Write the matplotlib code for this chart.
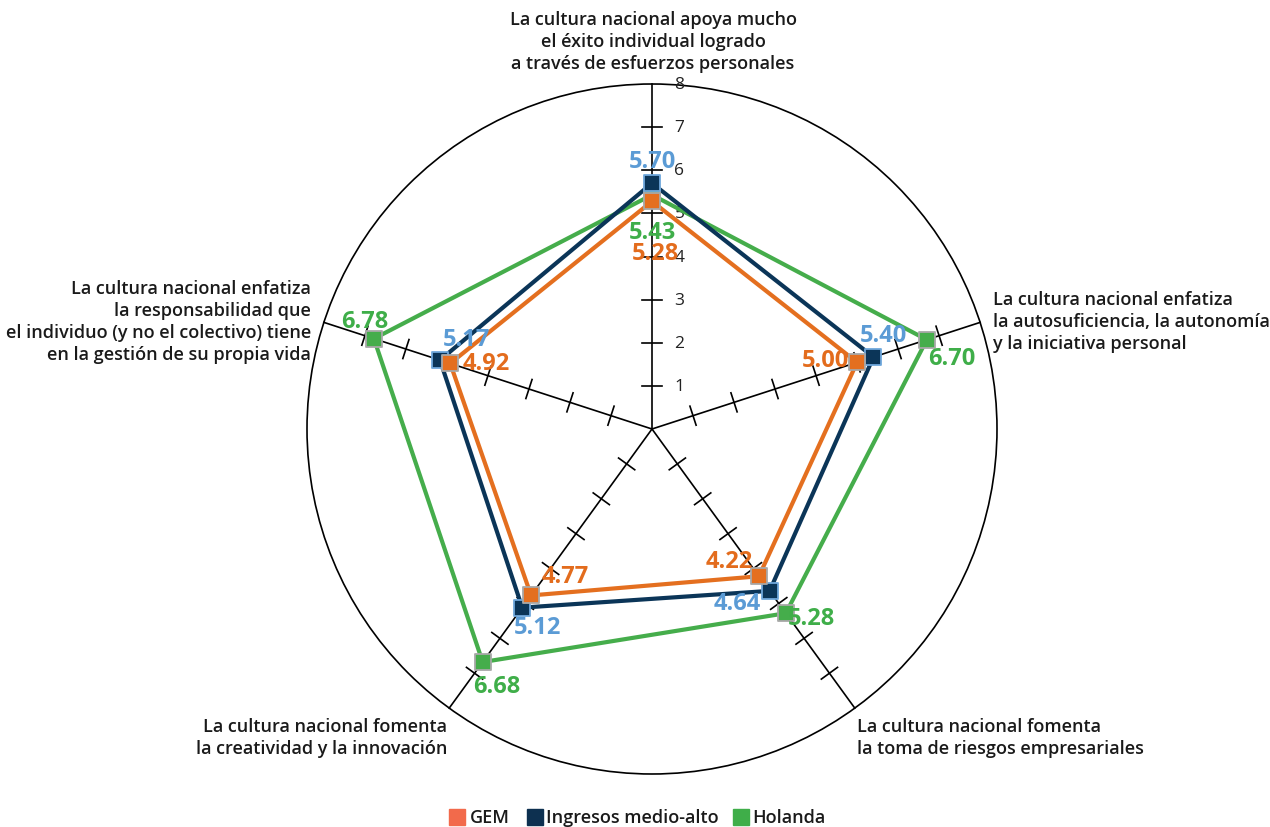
"""Radar chart: cultural norms scores for GEM, upper-middle income and Holanda."""
import matplotlib.pyplot as plt
import numpy as np
from matplotlib.patches import Circle, Rectangle

plt.rcParams["font.family"] = ["Open Sans", "DejaVu Sans"]

AXIS_LABELS = [
    "La cultura nacional apoya mucho\nel éxito individual logrado\na través de esfuerzos personales",
    "La cultura nacional enfatiza\nla autosuficiencia, la autonomía\ny la iniciativa personal",
    "La cultura nacional fomenta\nla toma de riesgos empresariales",
    "La cultura nacional fomenta\nla creatividad y la innovación",
    "La cultura nacional enfatiza\nla responsabilidad que\nel individuo (y no el colectivo) tiene\nen la gestión de su propia vida",
]
SERIES = ["GEM", "Ingresos medio-alto", "Holanda"]
gem = [5.28, 5.00, 4.22, 4.77, 4.92]
ingresos = [5.70, 5.40, 4.64, 5.12, 5.17]
holanda = [5.43, 6.70, 5.28, 6.68, 6.78]
R_MAX = 8
TICKS = [1, 2, 3, 4, 5, 6, 7, 8]

LINE_COLORS = {"GEM": "#e46f1f", "Ingresos medio-alto": "#0b3558", "Holanda": "#45ad4b"}
LABEL_COLORS = {"GEM": "#e36c1d", "Ingresos medio-alto": "#5b9bd5", "Holanda": "#3fae49"}
EDGE_COLORS = {"GEM": "#a8a8a8", "Ingresos medio-alto": "#6fa8dc", "Holanda": "#a8a8a8"}
LEGEND_COLORS = {"GEM": "#f26a4b", "Ingresos medio-alto": "#0d3050", "Holanda": "#3fae49"}

# value-label offsets in pixels from each marker, per series, per axis
LABEL_OFFSETS = {
    "GEM": [(3, -52), (-32, 2), (-30, 15), (34, 19), (36, 0)],
    "Ingresos medio-alto": [(0, 22), (10, 22), (-32, -12), (15, -19), (27, 21)],
    "Holanda": [(0, -37), (25, -18), (26, -5), (14, -24), (-9, 18)],
}

angles = np.deg2rad([90, 18, -54, -126, 162])

W, H = 1270, 828
cx, cy, rad = 652, 430, 345
fig = plt.figure(figsize=(W / 100, H / 100), dpi=100)
ax = fig.add_axes([(cx - rad) / W, (H - cy - rad) / H, 2 * rad / W, 2 * rad / H])
ax.set_xlim(-R_MAX, R_MAX)
ax.set_ylim(-R_MAX, R_MAX)
ax.axis("off")

# outer circle and spokes
ax.add_patch(Circle((0, 0), R_MAX, fill=False, ec="black", lw=1.2, zorder=1, clip_on=False))
tick_half = 10 / rad * R_MAX
for a in angles:
    ca, sa = np.cos(a), np.sin(a)
    ax.plot([0, R_MAX * ca], [0, R_MAX * sa], color="black", lw=1.2, zorder=1, clip_on=False)
    px, py = -sa, ca
    for t in TICKS[:-1]:
        x0, y0 = t * ca, t * sa
        ax.plot([x0 - tick_half * px, x0 + tick_half * px],
                [y0 - tick_half * py, y0 + tick_half * py],
                color="black", lw=1.2, zorder=1)

# tick labels on the top axis
for t in TICKS:
    ax.text(0.52, t, str(t), ha="left", va="center", fontsize=12.5, color="#222222", zorder=2)

data = {"GEM": gem, "Ingresos medio-alto": ingresos, "Holanda": holanda}
order = ["Holanda", "Ingresos medio-alto", "GEM"]
for z, name in enumerate(order):
    vals = np.array(data[name])
    xs = vals * np.cos(angles)
    ys = vals * np.sin(angles)
    ax.plot(np.append(xs, xs[0]), np.append(ys, ys[0]), color=LINE_COLORS[name],
            lw=3.0, zorder=3 + z, solid_joinstyle="miter")
    ax.scatter(xs, ys, marker="s", s=130, color=LINE_COLORS[name],
               edgecolors=EDGE_COLORS[name], linewidths=1.3, zorder=6 + z)
    for i, v in enumerate(vals):
        ax.annotate(f"{v:.2f}", (xs[i], ys[i]), xytext=LABEL_OFFSETS[name][i],
                    textcoords="offset pixels", ha="center", va="center",
                    fontsize=17, fontweight="bold", color=LABEL_COLORS[name], zorder=10)

# axis titles (positioned in figure pixels)
label_spec = [
    (653, 42, "center"),
    (993, 322, "left"),
    (857, 738, "left"),
    (447, 738, "right"),
    (311, 322, "right"),
]
for text, (lx, ly, ha) in zip(AXIS_LABELS, label_spec):
    fig.text(lx / W, 1 - ly / H, text, ha=ha, va="center", fontsize=13,
             fontweight="semibold", color="#1a1a1a", linespacing=1.3, multialignment=ha)

# legend
legend_items = [(449, 470), (527, 546), (733, 752)]
for name, (sx, tx) in zip(SERIES, legend_items):
    fig.patches.append(Rectangle((sx / W, 1 - 826 / H), 16 / W, 16 / H,
                                 transform=fig.transFigure, color=LEGEND_COLORS[name]))
    fig.text(tx / W, 1 - 818 / H, name, ha="left", va="center", fontsize=13,
             fontweight="semibold", color="#1a1a1a")

fig.savefig("out.png", dpi=100)
